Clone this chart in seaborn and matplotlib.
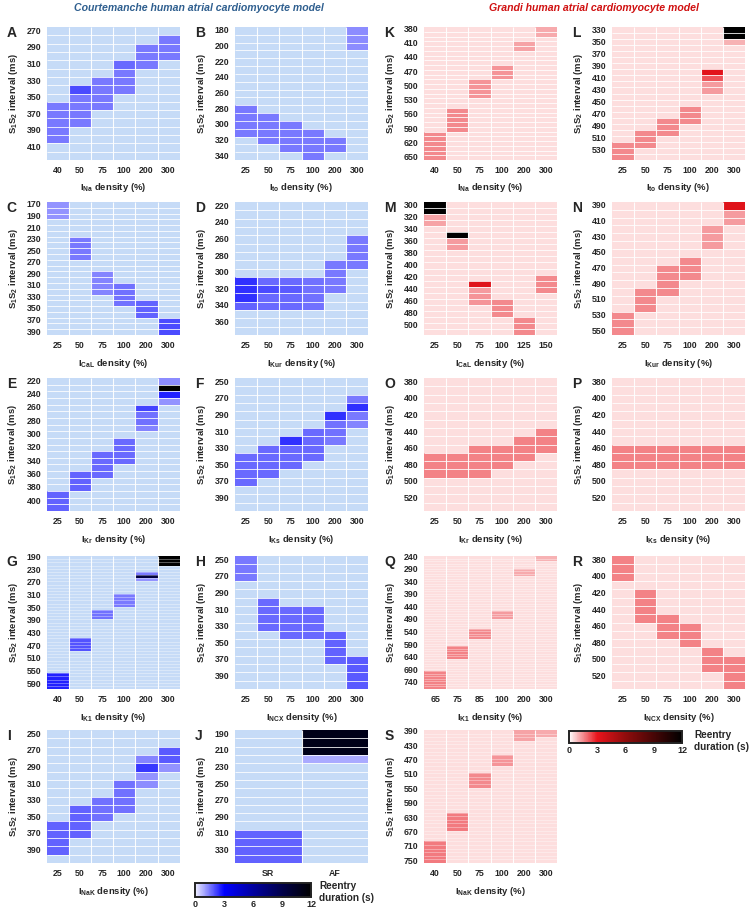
import numpy as np
import pandas as pd
import matplotlib
matplotlib.use("Agg")
import matplotlib.pyplot as plt
from matplotlib.colors import LinearSegmentedColormap
import seaborn as sns

sns.set_style("white")
plt.rcParams["font.family"] = ["Liberation Sans", "DejaVu Sans"]
plt.rcParams["font.weight"] = "bold"
plt.rcParams["axes.labelweight"] = "bold"
plt.rcParams["mathtext.fontset"] = "custom"
plt.rcParams["mathtext.rm"] = "Liberation Sans:bold"
plt.rcParams["mathtext.it"] = "Liberation Sans:bold"
plt.rcParams["mathtext.bf"] = "Liberation Sans:bold"

# ---------------- data ----------------
# columns (% of control current density)
dens_std = ["25", "50", "75", "100", "200", "300"]
dens_na = ["40", "50", "75", "100", "200", "300"]
dens_cal_g = ["25", "50", "75", "100", "125", "150"]
dens_k1_g = ["65", "75", "85", "100", "200", "300"]
rhythm = ["SR", "AF"]

# S1S2 intervals (ms) shown on each panel (rows, 10 ms steps)
A_rows = range(270, 421, 10)
B_rows = range(180, 341, 10)
C_rows = range(170, 391, 10)
D_rows = range(220, 371, 10)
E_rows = range(220, 411, 10)
F_rows = range(250, 401, 10)
G_rows = range(190, 601, 10)
H_rows = range(250, 401, 10)
I_rows = range(250, 401, 10)
J_rows = range(190, 341, 10)
K_rows = range(380, 651, 10)
L_rows = range(330, 541, 10)
M_rows = range(300, 511, 10)
N_rows = range(390, 551, 10)
O_rows = range(380, 531, 10)
P_rows = range(380, 531, 10)
Q_rows = range(240, 761, 10)
R_rows = range(380, 531, 10)
S_rows = range(390, 751, 10)

# reentry duration (s): column -> (first S1S2 interval, durations of consecutive rows)
A_hits = {"40": (360, [1.5, 1.5, 1.5, 1.5, 1.5]), "50": (340, [2.1, 1.5, 1.5, 1.5, 1.5]),
          "75": (330, [1.5, 1.5, 1.5, 1.5]), "100": (310, [1.7, 1.5, 1.5, 1.5]),
          "200": (290, [1.5, 1.5, 1.5]), "300": (280, [1.5, 1.5, 1.5])}
B_hits = {"25": (280, [1.5, 1.5, 1.5, 1.5]), "50": (290, [1.5, 1.5, 1.5, 1.5]),
          "75": (300, [1.5, 1.5, 1.5, 1.5]), "100": (310, [1.5, 1.5, 1.5, 1.5]),
          "200": (320, [1.5, 1.5]), "300": (180, [1.3, 1.3, 1.3])}
C_hits = {"25": (170, [1.2, 1.2, 1.2]), "50": (230, [1.5, 1.5, 1.5, 1.5]),
          "75": (290, [1.4, 1.4, 1.4, 1.4]), "100": (310, [1.6, 1.6, 1.6, 1.6]),
          "200": (340, [1.8, 1.8, 1.8]), "300": (370, [2.1, 2.1, 2.1])}
D_hits = {"25": (310, [2.4, 2.4, 2.4, 1.8]), "50": (310, [1.7, 2.1, 1.7, 1.7]),
          "75": (310, [1.7, 1.9, 1.7, 1.7]), "100": (310, [1.6, 1.6, 1.6, 1.6]),
          "200": (290, [1.5, 1.5, 1.5, 1.5]), "300": (260, [1.5, 1.5, 1.5, 1.5])}
E_hits = {"25": (390, [1.8, 1.8, 1.8]), "50": (360, [1.8, 1.8, 1.8]),
          "75": (330, [1.7, 1.7, 1.7, 1.7]), "100": (310, [1.7, 1.7, 1.7, 1.7]),
          "200": (260, [2.2, 1.6, 1.6, 1.4]), "300": (220, [1.3, 12.0, 2.6, 1.2])}
F_hits = {"25": (340, [1.7, 1.7, 1.7, 1.7]), "50": (330, [1.7, 1.7, 1.7, 1.7]),
          "75": (320, [2.4, 1.7, 1.7, 1.7]), "100": (310, [1.7, 1.7, 1.7, 1.7]),
          "200": (290, [2.4, 1.6, 1.6, 1.5]), "300": (270, [1.5, 2.4, 1.5, 1.4])}
G_hits = {"40": (560, [2.6, 2.6, 2.6, 2.6, 2.6]), "50": (450, [2.0, 2.0, 2.0, 2.0]),
          "75": (360, [1.6, 1.6, 1.6]), "100": (310, [1.5, 1.5, 1.5, 1.5]),
          "200": (240, [1.5, 9.5, 1.2]), "300": (190, [12.0, 12.0, 12.0])}
H_hits = {"25": (250, [1.5, 1.5, 1.5]), "50": (300, [1.7, 1.7, 1.7, 1.7]),
          "75": (310, [1.7, 1.7, 1.7, 1.7]), "100": (310, [1.7, 1.7, 1.7, 1.7]),
          "200": (340, [1.8, 1.8, 1.8, 1.8]), "300": (370, [1.9, 1.9, 1.9, 1.9])}
I_hits = {"25": (360, [1.8, 1.8, 1.8, 1.8]), "50": (340, [1.8, 1.8, 1.8, 1.8]),
          "75": (330, [1.6, 1.6, 1.6]), "100": (310, [1.6, 1.6, 1.6, 1.6]),
          "200": (280, [1.4, 2.3, 1.2, 1.3]), "300": (270, [1.9, 1.9, 1.2])}
J_hits = {"SR": (310, [1.8, 1.8, 1.8, 1.8]), "AF": (190, [11.0, 11.0, 11.0, 0.9])}

K_hits = {"40": (600, [1.5, 1.5, 1.5, 1.5, 1.5, 1.5]), "50": (550, [1.5, 1.5, 1.5, 1.5, 1.5]),
          "75": (490, [1.4, 1.4, 1.4, 1.4]), "100": (460, [1.4, 1.4, 1.4]),
          "200": (410, [1.2, 1.2]), "300": (380, [1.1, 1.1])}
L_hits = {"25": (520, [1.5, 1.5, 1.5]), "50": (500, [1.5, 1.5, 1.5]),
          "75": (480, [1.5, 1.5, 1.5]), "100": (460, [1.5, 1.5, 1.5]),
          "200": (400, [3.2, 2.2, 1.3, 1.3]), "300": (330, [12.0, 12.0, 1.0])}
M_hits = {"25": (300, [12.0, 12.0, 1.2, 1.2]), "50": (350, [12.0, 1.3, 1.3]),
          "75": (430, [3.3, 1.3, 1.4, 1.4]), "100": (460, [1.5, 1.5, 1.5]),
          "125": (490, [1.5, 1.5, 1.5]), "150": (420, [1.5, 1.5, 1.5])}
N_hits = {"25": (530, [1.5, 1.5, 1.5]), "50": (500, [1.5, 1.5, 1.5]),
          "75": (470, [1.5, 1.5, 1.5, 1.5]), "100": (460, [1.5, 1.5, 1.5]),
          "200": (420, [1.3, 1.3, 1.3]), "300": (390, [3.3, 1.3, 1.3])}
O_hits = {"25": (470, [1.6, 1.6, 1.6]), "50": (470, [1.6, 1.6, 1.6]),
          "75": (460, [1.6, 1.6, 1.6, 1.6]), "100": (460, [1.6, 1.6, 1.6]),
          "200": (450, [1.6, 1.6, 1.6]), "300": (440, [1.6, 1.6, 1.6])}
P_hits = {"25": (460, [1.6, 1.6, 1.6]), "50": (460, [1.6, 1.6, 1.6]),
          "75": (460, [1.6, 1.6, 1.6]), "100": (460, [1.6, 1.6, 1.6]),
          "200": (460, [1.6, 1.6, 1.6]), "300": (460, [1.6, 1.6, 1.6])}
Q_hits = {"65": (700, [1.6, 1.6, 1.6, 1.6, 1.6, 1.6, 1.6]), "75": (600, [1.6, 1.6, 1.6, 1.6, 1.6]),
          "85": (530, [1.5, 1.5, 1.5, 1.5]), "100": (460, [1.3, 1.3, 1.3]),
          "200": (290, [1.1, 1.1, 1.1]), "300": (240, [1.0, 1.0])}
R_hits = {"25": (380, [1.6, 1.6, 1.6]), "50": (420, [1.6, 1.6, 1.6, 1.6]),
          "75": (450, [1.6, 1.6, 1.6]), "100": (460, [1.6, 1.6, 1.6]),
          "200": (490, [1.6, 1.6, 1.6]), "300": (500, [1.6, 1.6, 1.6, 1.6])}
S_hits = {"40": (700, [1.7, 1.7, 1.7, 1.7, 1.7, 1.7]), "50": (620, [1.7, 1.7, 1.7, 1.7, 1.7]),
          "75": (510, [1.5, 1.5, 1.5, 1.5]), "100": (460, [1.4, 1.4, 1.4]),
          "200": (390, [1.2, 1.2, 1.2]), "300": (390, [1.1, 1.1])}

cbar_ticks = [0, 3, 6, 9, 12]


def build(rows, cols, hits):
    df = pd.DataFrame(0.0, index=list(rows), columns=cols)
    for col, (start, durs) in hits.items():
        for k, d in enumerate(durs):
            df.loc[start + 10 * k, col] = d
    return df


# colour maps: white -> colour at 3 s -> black at 12 s, "no reentry" drawn as under colour
blue_cmap = LinearSegmentedColormap.from_list(
    "blue_re", [(0, "#f2f2ff"), (0.25, "#0000ff"), (0.5, "#0000a0"), (0.75, "#00004a"), (1, "#000000")])
blue_cmap.set_under("#c6dbf7")
red_cmap = LinearSegmentedColormap.from_list(
    "red_re", [(0, "#ffffff"), (0.25, "#e8141c"), (0.5, "#900c0c"), (0.75, "#480606"), (1, "#000000")])
red_cmap.set_under("#fddede")

fig = plt.figure(figsize=(7.52, 9.10), dpi=100)
W, H = 752.0, 910.0
lefts = [46.7, 235, 424, 612]
tops = [27, 202, 378, 556, 730]
size = 133


def panel(col, row, letter, df, cmap, every, xlabel, cax=None):
    ax = fig.add_axes([lefts[col] / W, 1 - (tops[row] + size) / H, size / W, size / H])
    ylabels = [str(v) if i % every == 0 else "" for i, v in enumerate(df.index)]
    shown = df.mask(df == 0, -1)
    sns.heatmap(shown, ax=ax, cmap=cmap, vmin=0, vmax=12, linewidths=0,
                xticklabels=list(df.columns), yticklabels=ylabels,
                cbar=cax is not None, cbar_ax=cax,
                cbar_kws={"orientation": "horizontal", "ticks": cbar_ticks})
    # thin white cell separators
    nrow, ncol = df.shape
    if nrow <= 30:
        ax.hlines(np.arange(1, nrow), 0, ncol, color="white", lw=0.6, alpha=0.95)
    else:
        ax.hlines(np.arange(1, nrow), 0, ncol, color="white", lw=0.45, alpha=0.55)
    ax.vlines(np.arange(1, ncol), 0, nrow, color="white", lw=0.8, alpha=0.95)
    ax.tick_params(length=0, labelsize=6.3, pad=4)
    ax.tick_params(axis="y", labelrotation=0)
    ax.tick_params(axis="x", labelrotation=0)
    if xlabel:
        ax.set_xlabel(xlabel + " density (%)", fontsize=6.8, labelpad=5)
    ax.set_ylabel(r"S$_1$S$_2$ interval (ms)", fontsize=6.8, labelpad=5)
    ax.text(-0.30, 1.01, letter, transform=ax.transAxes, ha="left", va="top",
            fontsize=10, fontweight="bold")
    if cax is not None:
        cb = ax.collections[0].colorbar
        cb.outline.set_visible(True)
        cb.outline.set_linewidth(1.4)
        cb.outline.set_edgecolor("#222222")
        cax.tick_params(labelsize=6.5, length=3, direction="in", width=0.6, color="#444444", pad=2)
    return ax


blue_cax = fig.add_axes([195 / W, 1 - 897 / H, 116 / W, 14 / H])
red_cax = fig.add_axes([569 / W, 1 - 743 / H, 113 / W, 12 / H])

panel(0, 0, "A", build(A_rows, dens_na, A_hits), blue_cmap, 2, r"I$_{Na}$")
panel(1, 0, "B", build(B_rows, dens_std, B_hits), blue_cmap, 2, r"I$_{to}$")
panel(0, 1, "C", build(C_rows, dens_std, C_hits), blue_cmap, 2, r"I$_{CaL}$")
panel(1, 1, "D", build(D_rows, dens_std, D_hits), blue_cmap, 2, r"I$_{Kur}$")
panel(0, 2, "E", build(E_rows, dens_std, E_hits), blue_cmap, 2, r"I$_{Kr}$")
panel(1, 2, "F", build(F_rows, dens_std, F_hits), blue_cmap, 2, r"I$_{Ks}$")
panel(0, 3, "G", build(G_rows, dens_na, G_hits), blue_cmap, 4, r"I$_{K1}$")
panel(1, 3, "H", build(H_rows, dens_std, H_hits), blue_cmap, 2, r"I$_{NCX}$")
panel(0, 4, "I", build(I_rows, dens_std, I_hits), blue_cmap, 2, r"I$_{NaK}$")
panel(1, 4, "J", build(J_rows, rhythm, J_hits), blue_cmap, 2, None, cax=blue_cax)

panel(2, 0, "K", build(K_rows, dens_na, K_hits), red_cmap, 3, r"I$_{Na}$")
panel(3, 0, "L", build(L_rows, dens_std, L_hits), red_cmap, 2, r"I$_{to}$")
panel(2, 1, "M", build(M_rows, dens_cal_g, M_hits), red_cmap, 2, r"I$_{CaL}$")
panel(3, 1, "N", build(N_rows, dens_std, N_hits), red_cmap, 2, r"I$_{Kur}$")
panel(2, 2, "O", build(O_rows, dens_std, O_hits), red_cmap, 2, r"I$_{Kr}$")
panel(3, 2, "P", build(P_rows, dens_std, P_hits), red_cmap, 2, r"I$_{Ks}$")
panel(2, 3, "Q", build(Q_rows, dens_k1_g, Q_hits), red_cmap, 5, r"I$_{K1}$")
panel(3, 3, "R", build(R_rows, dens_std, R_hits), red_cmap, 2, r"I$_{NCX}$")
panel(2, 4, "S", build(S_rows, dens_na, S_hits), red_cmap, 4, r"I$_{NaK}$", cax=red_cax)

fig.text(319 / W, 1 - 881 / H, "Reentry\nduration (s)", ha="left", va="top",
         fontsize=7.2, fontweight="bold", linespacing=1.3)
fig.text(694 / W, 1 - 730 / H, "Reentry\nduration (s)", ha="left", va="top",
         fontsize=7.2, fontweight="bold", linespacing=1.3)

fig.text(199 / W, 1 - 8 / H, "Courtemanche human atrial cardiomyocyte model", ha="center",
         va="center", fontsize=7.6, fontweight="bold", fontstyle="italic", color="#2f5f8f")
fig.text(594 / W, 1 - 8 / H, "Grandi human atrial cardiomyocyte model", ha="center",
         va="center", fontsize=7.6, fontweight="bold", fontstyle="italic", color="#d01010")

fig.savefig("out.png", dpi=100)
